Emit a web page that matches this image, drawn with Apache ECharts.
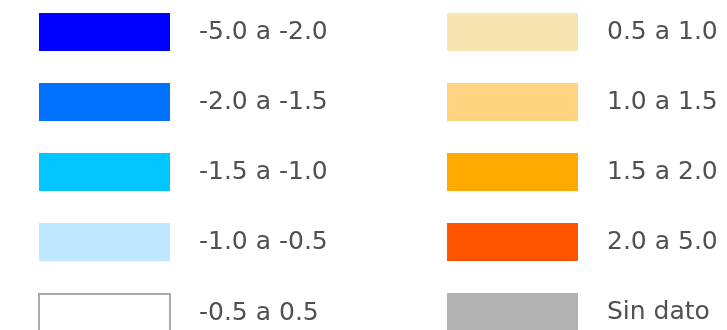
<!DOCTYPE html>
<html><head><meta charset="utf-8">
<script src="https://cdn.jsdelivr.net/npm/echarts@6/dist/echarts.min.js"></script>
<style>html,body{margin:0;padding:0;background:#fff}#c{width:727px;height:330px}</style>
</head><body><div id="c"></div>
<script>
const leftLabels = ['-5.0 a -2.0', '-2.0 a -1.5', '-1.5 a -1.0', '-1.0 a -0.5', '-0.5 a 0.5'];
const rightLabels = ['0.5 a 1.0', '1.0 a 1.5', '1.5 a 2.0', '2.0 a 5.0', 'Sin dato'];
const leftColors = ['#0000FF', '#0070FF', '#00C5FF', '#BEE8FF', '#FFFFFF'];
const rightColors = ['#F8E4B0', '#FFD380', '#FFAA00', '#FF5500', '#B2B2B2'];

const labels = leftLabels.concat(rightLabels);
const colors = leftColors.concat(rightColors);

const series = labels.map((name, i) => ({
  name: name,
  type: 'scatter',
  data: [],
  itemStyle: name === '-0.5 a 0.5'
    ? { color: colors[i], borderColor: '#AAAAAA', borderWidth: 2, opacity: 1 }
    : { color: colors[i], borderWidth: 0, opacity: 1 }
}));

const textStyle = { fontFamily: 'DejaVu Sans', fontSize: 25, color: '#505050', padding: [0, 0, 0, 24] };
function legendData(list) {
  return list.map(n => {
    const i = labels.indexOf(n);
    return { name: n, icon: 'rect', itemStyle: series[i].itemStyle };
  });
}
const common = {
  orient: 'vertical', top: 13, height: 400, padding: 0, itemWidth: 131, itemHeight: 38, itemGap: 32,
  selectedMode: false, textStyle: textStyle
};
const chart = echarts.init(document.getElementById('c'), null, { renderer: 'canvas' });
chart.setOption({
  animation: false,
  grid: { show: false },
  xAxis: { show: false, type: 'value' },
  yAxis: { show: false, type: 'value' },
  legend: [
    Object.assign({ left: 38, data: legendData(leftLabels) }, common),
    Object.assign({ left: 447, data: legendData(rightLabels) }, common)
  ],
  series: series
});
</script></body></html>
